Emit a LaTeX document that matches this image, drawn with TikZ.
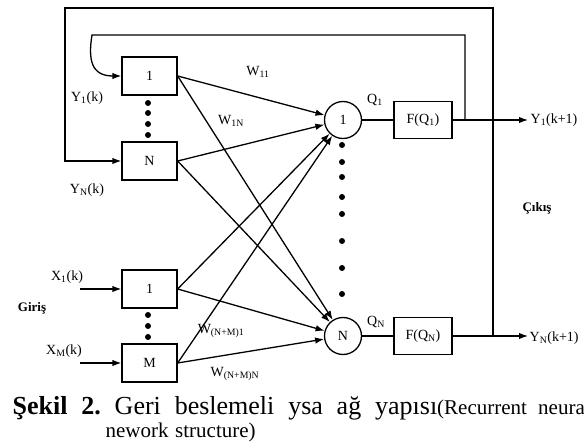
\documentclass[tikz,border=0pt]{standalone}
\usepackage{fontspec}
\setmainfont{Liberation Serif}
\usetikzlibrary{arrows.meta}
\newcommand{\lblfont}{\fontsize{14}{16}\selectfont}
\frenchspacing

\begin{document}
\begin{tikzpicture}[x=1pt,y=-1pt,line width=1.3pt,
    inbox/.style={draw,minimum width=55pt,minimum height=38pt,inner sep=0pt,font=\lblfont},
    neuron/.style={draw,circle,minimum size=37pt,inner sep=0pt,font=\lblfont},
    actbox/.style={draw,minimum width=58pt,minimum height=37pt,inner sep=0pt,font=\lblfont},
    wire/.style={-{Latex[length=9pt,width=6.5pt]}},
    lbl/.style={inner sep=0pt,font=\lblfont},
    blob/.style={fill,circle,inner sep=0pt,minimum size=6pt}]
    %%%%% START %%%%%
    \useasboundingbox (0,0) rectangle (584,446);

    % input layer: fed back outputs and outside inputs
    \node[inbox] (in1) at (149.5,76) {1};
    \node[inbox] (inN) at (149.5,161) {N};
    \node[inbox] (x1) at (149.5,289) {1};
    \node[inbox] (xM) at (149.5,363) {M};

    % neurons and their activation
    \node[neuron] (q1) at (343,120) {1};
    \node[neuron] (qN) at (343,336) {N};
    \node[actbox] (f1) at (423,120) {F(Q\textsubscript{1})};
    \node[actbox] (fN) at (423,336) {F(Q\textsubscript{N})};

    \coordinate (y1) at (528,120);
    \coordinate (yN) at (528,336);
    \coordinate (t1) at (465,120);
    \coordinate (tN) at (493,336);
    \coordinate (a1) at (92,35);
    \coordinate (b1) at (65,8);
    \coordinate (x1in) at (80,289);
    \coordinate (xMin) at (80,363);

    \draw (q1) -- (f1);
    \draw (qN) -- (fN);
    \draw[wire] (f1) -- (y1);
    \draw[wire] (fN) -- (yN);

    % feedback loops
    \draw[wire] (t1) |- (a1) .. controls +(-4,25) and +(-30,0) .. (in1.west);
    \draw[wire] (tN) |- (b1) |- (inN.west);

    \draw[wire] (x1in) -- (x1.west);
    \draw[wire] (xMin) -- (xM.west);

    % weights
    \draw[wire] (in1.east) -- (q1);
    \draw[wire] (in1.east) -- (qN);
    \draw[wire] (inN.east) -- (q1);
    \draw[wire] (inN.east) -- (qN);
    \draw[wire] (x1.east) -- (q1);
    \draw[wire] (x1.east) -- (qN);
    \draw[wire] (xM.east) -- (q1);
    \draw[wire] (xM.east) -- (qN);

    % dots
    \foreach \y in {103,113,124,135} \node[blob] (dy\y) at (148,\y) {};
    \foreach \y in {315,326,337} \node[blob] (dx\y) at (148,\y) {};
    \foreach \y in {145,162,177,197,214,241,268,294} \node[blob] (dq\y) at (342,\y) {};

    % labels
    \node[lbl] (ly1) at (87,98) {Y\textsubscript{1}(k)};
    \node[lbl] (lyN) at (87,190) {Y\textsubscript{N}(k)};
    \node[lbl] (lx1) at (67,277) {X\textsubscript{1}(k)};
    \node[lbl] (lxM) at (64,351) {X\textsubscript{M}(k)};
    \node[lbl,font=\fontsize{13}{15}\selectfont\bfseries] (giris) at (32,308) {Giriş};
    \node[lbl,font=\fontsize{13}{15}\selectfont\bfseries] (cikis) at (537,208) {Çıkış};
    \node[lbl] (w11) at (258,72) {W\textsubscript{11}};
    \node[lbl] (w1N) at (231,121) {W\textsubscript{1N}};
    \node[lbl] (wm1) at (221,331) {W\textsubscript{(N+M)1}};
    \node[lbl] (wmN) at (235,374) {W\textsubscript{(N+M)N}};
    \node[lbl] (lq1) at (375,100) {Q\textsubscript{1}};
    \node[lbl] (lqN) at (376,322) {Q\textsubscript{N}};
    \node[lbl,anchor=west] (out1) at (530,120) {Y\textsubscript{1}(k+1)};
    \node[lbl,anchor=west] (outN) at (529,338) {Y\textsubscript{N}(k+1)};

    % caption
    \node[inner sep=0pt,anchor=base west] (cap1) at (12,414)
      {\makebox[578pt][s]{\fontsize{26}{30}\selectfont\textbf{Şekil 2.} Geri beslemeli ysa ağ yapısı{\fontsize{21}{25}\selectfont(Recurrent neural}}};
    \node[inner sep=0pt,anchor=base west] (cap2) at (105,437)
      {\makebox[150pt][s]{\fontsize{21}{25}\selectfont nework structure)}};
    %%%%% END %%%%%
\end{tikzpicture}
\end{document}
